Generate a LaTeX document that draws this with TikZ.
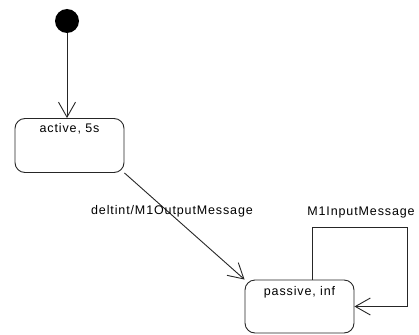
\documentclass[tikz,border=0pt]{standalone}
\usepackage{fontspec}
\setmainfont{Liberation Sans}[LetterSpace=7]
\usetikzlibrary{arrows.meta,calc}
\begin{document}
\begin{tikzpicture}[x=1pt,y=1pt,
  every node/.style={font=\fontsize{12.5}{14}\selectfont},
  statebox/.style={draw=black!85,line width=0.9pt,rounded corners=10pt,minimum width=109pt,minimum height=54pt,inner sep=0pt},
  stname/.style={anchor=north,inner sep=0pt},
  initst/.style={circle,fill=black,minimum size=24pt,inner sep=0pt},
  arr/.style={line width=0.9pt,draw=black!85,-{Straight Barb[length=15pt,width=17pt,line width=0.9pt]}},
  elabel/.style={inner sep=0pt}]
\useasboundingbox (0,0) rectangle (419,-334);
\node[initst] (init) at (67,-21) {};
\node[statebox] (active) at (69.5,-145.5) {};
\node[stname] (activet) at (69.5,-123) {active, 5s};
\node[statebox,minimum height=53pt] (passive) at (299.5,-306.5) {};
\node[stname] (passivet) at (299.5,-286) {passive, inf};
\coordinate (loopc) at (407,-227);
\draw[arr] (init) -- (init |- active.north);
\draw[arr] (active.south east) -- (passive.north west);
\node[elabel] (lbl1) at (172,-211) {deltint/M1OutputMessage};
\draw[arr] ($(passive.north west)+(68,0)$) |- (loopc) |- (passive.east);
\node[elabel] (lbl2) at (361,-212) {M1InputMessage};
\end{tikzpicture}
\end{document}
